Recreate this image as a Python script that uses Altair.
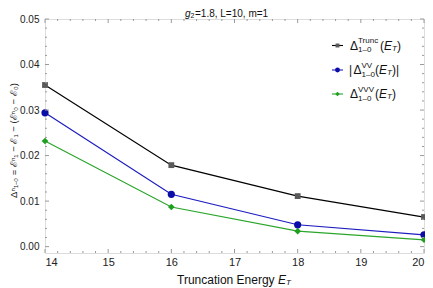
import altair as alt
import pandas as pd

# ---- data ----
energies = [14, 16, 18, 20]
trunc = [0.0355, 0.0179, 0.0111, 0.0065]
vv_abs = [0.0294, 0.0115, 0.0048, 0.0026]
vvv = [0.0232, 0.0087, 0.0034, 0.0015]
series_names = ["Trunc", "VV", "VVV"]

x_major = [14, 15, 16, 17, 18, 19, 20]
x_minor = [round(14 + 0.2 * i, 1) for i in range(31) if i % 5]
y_major = [0.0, 0.01, 0.02, 0.03, 0.04, 0.05]
y_minor = [round(0.002 * i, 3) for i in range(26) if i % 5]

FONT = "Liberation Sans"
W, H = 379, 234
line_colors = ["#000000", "#1c1cc0", "#2aa62a"]
marker_colors = ["#5a5a5a", "#0c0ca8", "#1f9f1f"]
marker_shapes = ["square", "circle", "diamond"]
marker_sizes = [34, 52, 44]

rows = []
for name, vals in zip(series_names, [trunc, vv_abs, vvv]):
    for e, v in zip(energies, vals):
        rows.append({"E": e, "value": v, "series": name})
df = pd.DataFrame(rows)

xs = alt.Scale(domain=[14, 20], nice=False, zero=False)
ys = alt.Scale(domain=[-0.0014, 0.05], nice=False, zero=False)

x_axis = alt.Axis(values=x_major, format="d", domain=False, ticks=False, tickSize=0,
                  grid=False, labelPadding=3, labelFontSize=11, labelFont=FONT,
                  labelColor="#222222", title=None)
y_axis = alt.Axis(values=y_major, format=".2f", domain=False, ticks=False, tickSize=0,
                  grid=False, labelPadding=6, labelFontSize=10, labelFont=FONT,
                  labelColor="#222222",
                  title="Δⁿ₁₋₀ = ℰⁿ₁ − ℰ₁ − (ℰⁿ₀ − ℰ₀)",
                  titleFont=FONT, titleFontSize=9.5, titleFontWeight="normal",
                  titleColor="#222222", titleX=-37, titleY=121, titleBaseline="top")

X = alt.X("E:Q", scale=xs, axis=x_axis)
Y = alt.Y("value:Q", scale=ys, axis=y_axis)

lines = alt.Chart(df).mark_line(strokeWidth=1.2).encode(
    x=X, y=Y,
    color=alt.Color("series:N", scale=alt.Scale(domain=series_names, range=line_colors), legend=None),
)

layers = [lines]
for name, col, shp, sz in zip(series_names, marker_colors, marker_shapes, marker_sizes):
    layers.append(
        alt.Chart(df).transform_filter(alt.datum.series == name)
        .mark_point(shape=shp, filled=True, color=col, size=sz, opacity=1)
        .encode(x=X, y=Y)
    )

TICK = "#9a9a9a"
# frame ticks (inward)
def xticks(vals, length):
    d = pd.DataFrame({"E": vals})
    b = alt.Chart(d).mark_rule(color=TICK, strokeWidth=1).encode(x=X, y=alt.value(H), y2=alt.value(H - length))
    t = alt.Chart(d).mark_rule(color=TICK, strokeWidth=1).encode(x=X, y=alt.value(0), y2=alt.value(length))
    return [b, t]

def yticks(vals, length):
    d = pd.DataFrame({"value": vals})
    l = alt.Chart(d).mark_rule(color=TICK, strokeWidth=1).encode(y=Y, x=alt.value(0), x2=alt.value(length))
    r = alt.Chart(d).mark_rule(color=TICK, strokeWidth=1).encode(y=Y, x=alt.value(W), x2=alt.value(W - length))
    return [l, r]

layers += xticks(x_major, 4) + xticks(x_minor, 2) + yticks(y_major, 4) + yticks(y_minor, 2)


def txt(s, px, py, size=12, style="normal", color="#111111"):
    return alt.Chart(pd.DataFrame({"s": [s]})).mark_text(
        align="left", baseline="middle", fontSize=size, fontStyle=style, font=FONT, color=color
    ).encode(x=alt.value(px), y=alt.value(py), text="s:N")


# ---- title ----
layers += [txt("g", 140, -5.5, 10, "italic"), txt("2", 145.5, -3, 7), txt("=1.8, L=10, m=1", 150, -5.5, 10)]

# ---- x axis title ----
layers += [txt("Truncation Energy", 132, 261, 12), txt("E", 233, 261, 12, "italic"),
           txt("T", 241, 264, 8, "italic")]

# ---- legend ----
leg_y = [26.5, 51, 75]
leg_sup = ["Trunc", "VV", "VVV"]
leg_dx = [0, 3.5, 0]          # shift for leading "|"
leg_paren = [335, 330, 330]
for i in range(3):
    yy = leg_y[i]
    d = pd.DataFrame({"s": [0]})
    layers.append(alt.Chart(d).mark_rule(color=line_colors[i], strokeWidth=1.1).encode(
        x=alt.value(287), x2=alt.value(298), y=alt.value(yy)))
    layers.append(alt.Chart(d).mark_point(shape=marker_shapes[i], filled=True, color=marker_colors[i],
                                          size=marker_sizes[i] * 0.45, opacity=1).encode(
        x=alt.value(292.5), y=alt.value(yy)))
    x0 = 305 + leg_dx[i]
    if i == 1:
        layers.append(txt("|", 304, yy, 12))
    layers.append(txt("Δ", x0, yy, 12))
    layers.append(txt(leg_sup[i], x0 + 8, yy - 4.5, 8))
    layers.append(txt("1–0", x0 + 8, yy + 4.5, 8))
    p = leg_paren[i]
    layers.append(txt("(", p, yy, 12))
    layers.append(txt("E", p + 4, yy, 12, "italic"))
    layers.append(txt("T", p + 12, yy + 3, 8, "italic"))
    layers.append(txt(")", p + 17, yy, 12))
    if i == 1:
        layers.append(txt("|", p + 21, yy, 12))

chart = alt.layer(*layers).properties(
    width=W, height=H,
    autosize=alt.AutoSizeParams(type="none"),
    padding={"left": 37, "top": 11, "right": 1, "bottom": 35},
).configure_view(stroke="#aaaaaa", strokeWidth=1).configure(background="white")

chart.save("out.html", embed_options={"renderer": "svg", "actions": False})
